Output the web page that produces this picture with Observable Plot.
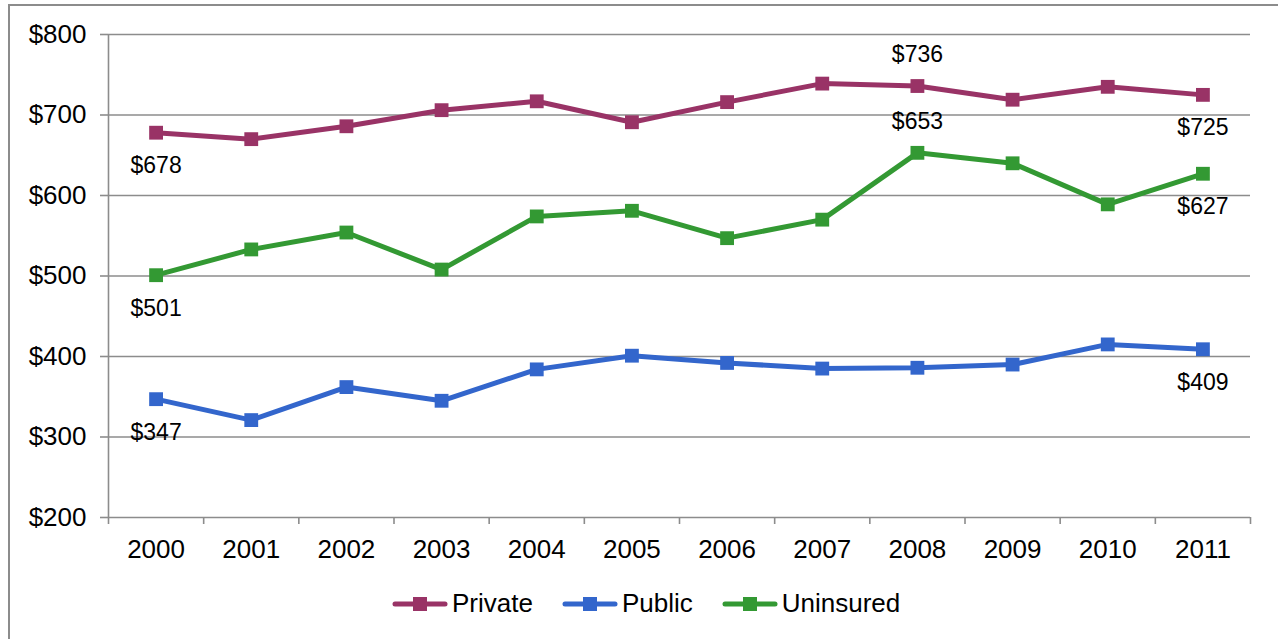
<!DOCTYPE html>
<html>
<head>
<meta charset="utf-8">
<script src="https://cdn.jsdelivr.net/npm/d3@7"></script>
<script src="https://cdn.jsdelivr.net/npm/@observablehq/plot@0.6"></script>
<style>
  body { margin: 0; background: #fff; font-family: "Liberation Sans", Arial, sans-serif; }
  #frame { position: absolute; left: 8px; top: 4px; width: 1300px; height: 700px;
           border-left: 2px solid #8c8c8c; border-top: 2px solid #8c8c8c; }
  #chart { position: absolute; left: 0; top: 0; }
  #legend { position: absolute; left: 392px; top: 588px; display: flex; align-items: center;
            font-size: 26px; color: #000; white-space: nowrap; }
  .item { display: flex; align-items: center; margin-right: 29px; }
  .item svg { margin-right: 4px; }
</style>
</head>
<body>
<div id="frame"></div>
<div id="chart"></div>
<div id="legend"></div>
<script>
const years = [2000, 2001, 2002, 2003, 2004, 2005, 2006, 2007, 2008, 2009, 2010, 2011];
const seriesNames = ["Private", "Public", "Uninsured"];
const seriesColors = ["#993366", "#3366cc", "#339933"];
const privateValues = [678, 670, 686, 706, 717, 691, 716, 739, 736, 719, 735, 725];
const publicValues = [347, 321, 362, 345, 384, 401, 392, 385, 386, 390, 415, 409];
const uninsuredValues = [501, 533, 554, 508, 574, 581, 547, 570, 653, 640, 589, 627];
const yTicks = [200, 300, 400, 500, 600, 700, 800];
// labelled points: [series, year]
const labelsBelow = [["Private", 2000], ["Uninsured", 2000], ["Public", 2000],
                     ["Private", 2011], ["Uninsured", 2011], ["Public", 2011]];
const labelsAbove = [["Private", 2008], ["Uninsured", 2008]];

const valuesBySeries = {Private: privateValues, Public: publicValues, Uninsured: uninsuredValues};
const data = seriesNames.flatMap(s => years.map((year, i) => ({series: s, year, value: valuesBySeries[s][i]})));
const lookup = ([s, y]) => ({series: s, year: y, value: valuesBySeries[s][years.indexOf(y)]});
const below = labelsBelow.map(lookup);
const above = labelsAbove.map(lookup);

const xMin = years[0] - 0.5, xMax = years[years.length - 1] + 0.5;
const boundaries = years.map(y => y - 0.5).concat([xMax]);
const grid = "#8c8c8c";

const chart = Plot.plot({
  width: 1278,
  height: 580,
  marginLeft: 108,
  marginRight: 28,
  marginTop: 34,
  marginBottom: 63,
  style: {fontFamily: "'Liberation Sans', Arial, sans-serif", background: "transparent", overflow: "visible"},
  x: {type: "linear", domain: [xMin, xMax]},
  y: {domain: [yTicks[0], yTicks[yTicks.length - 1]]},
  color: {domain: seriesNames, range: seriesColors},
  marks: [
    Plot.gridY(yTicks.slice(1), {stroke: grid, strokeOpacity: 1, strokeWidth: 1.6}),
    Plot.ruleX([xMin], {stroke: grid, strokeWidth: 1.6}),
    Plot.ruleY([yTicks[0]], {stroke: grid, strokeWidth: 1.6}),
    Plot.axisY(yTicks, {tickSize: 8, tickPadding: 14, stroke: grid, strokeWidth: 1.6, fill: "#000",
      fontSize: 26, tickFormat: d => "$" + d, label: null}),
    Plot.axisX(boundaries, {tickSize: 7, stroke: grid, strokeWidth: 1.6, tickFormat: () => "", label: null}),
    Plot.axisX(years, {tickSize: 0, tickPadding: 22, fill: "#000", fontSize: 26,
      tickFormat: d => String(d), label: null}),
    Plot.line(data, {x: "year", y: "value", z: "series", stroke: "series", strokeWidth: 5,
      strokeLinejoin: "round"}),
    Plot.dot(data, {x: "year", y: "value", fill: "series", symbol: "square", r: 7.8, stroke: null}),
    Plot.text(below, {x: "year", y: "value", text: d => "$" + d.value, dy: 33, fontSize: 23, fill: "#000"}),
    Plot.text(above, {x: "year", y: "value", text: d => "$" + d.value, dy: -31, fontSize: 23, fill: "#000"})
  ]
});
document.getElementById("chart").appendChild(chart);

const legend = d3.select("#legend");
seriesNames.forEach((name, i) => {
  const item = legend.append("div").attr("class", "item");
  const svg = item.append("svg").attr("width", 56).attr("height", 16);
  svg.append("line").attr("x1", 3).attr("x2", 53).attr("y1", 8).attr("y2", 8)
    .attr("stroke", seriesColors[i]).attr("stroke-width", 5).attr("stroke-linecap", "round");
  svg.append("rect").attr("x", 21).attr("y", 1).attr("width", 14).attr("height", 14)
    .attr("fill", seriesColors[i]);
  item.append("span").text(name);
});
</script>
</body>
</html>
